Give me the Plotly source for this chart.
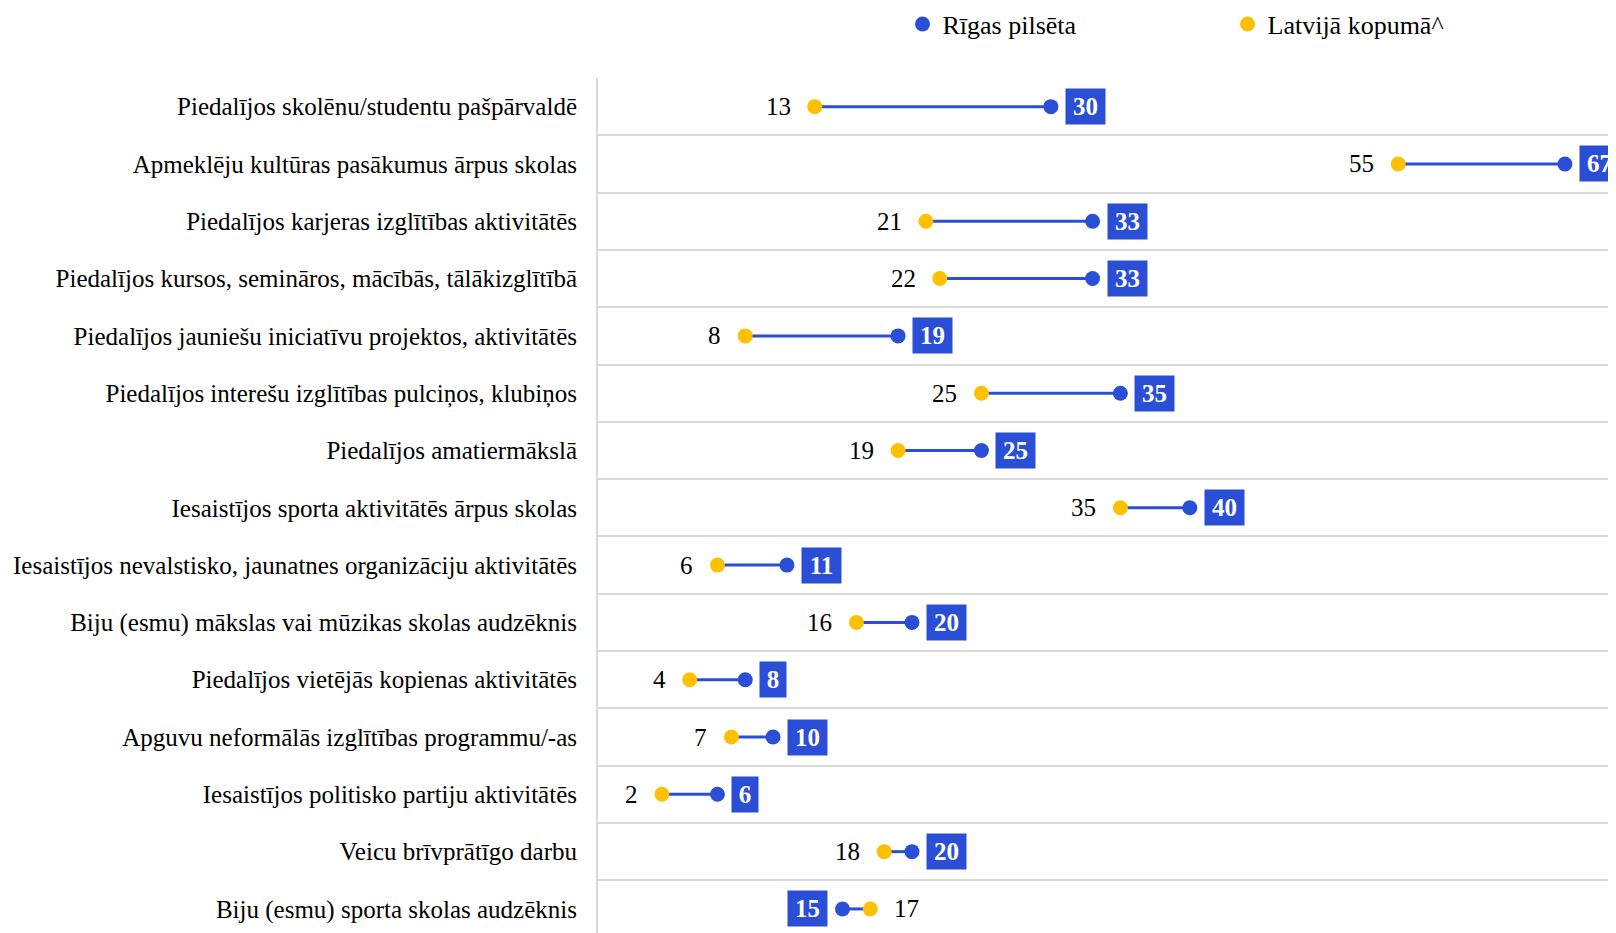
import plotly.graph_objects as go

categories = [
    "Piedalījos skolēnu/studentu pašpārvaldē",
    "Apmeklēju kultūras pasākumus ārpus skolas",
    "Piedalījos karjeras izglītības aktivitātēs",
    "Piedalījos kursos, semināros, mācībās, tālākizglītībā",
    "Piedalījos jauniešu iniciatīvu projektos, aktivitātēs",
    "Piedalījos interešu izglītības pulciņos, klubiņos",
    "Piedalījos amatiermākslā",
    "Iesaistījos sporta aktivitātēs ārpus skolas",
    "Iesaistījos nevalstisko, jaunatnes organizāciju aktivitātēs",
    "Biju (esmu) mākslas vai mūzikas skolas audzēknis",
    "Piedalījos vietējās kopienas aktivitātēs",
    "Apguvu neformālās izglītības programmu/-as",
    "Iesaistījos politisko partiju aktivitātēs",
    "Veicu brīvprātīgo darbu",
    "Biju (esmu) sporta skolas audzēknis",
]
riga = [30, 67, 33, 33, 19, 35, 25, 40, 11, 20, 8, 10, 6, 20, 15]
latvija = [13, 55, 21, 22, 8, 25, 19, 35, 6, 16, 4, 7, 2, 18, 17]

BLUE = "#2A4FD6"
GOLD = "#FFC000"
FONT = "Liberation Serif"

ypos = list(range(len(categories)))

fig = go.Figure()

# connecting lines
lx, ly = [], []
for i, (a, b) in enumerate(zip(latvija, riga)):
    lx += [a, b, None]
    ly += [i, i, None]
fig.add_trace(go.Scatter(x=lx, y=ly, mode="lines", line=dict(color=BLUE, width=3),
                         showlegend=False, hoverinfo="skip"))

fig.add_trace(go.Scatter(x=riga, y=ypos, mode="markers", name="Rīgas pilsēta",
                         marker=dict(color=BLUE, size=15)))
fig.add_trace(go.Scatter(x=latvija, y=ypos, mode="markers", name="Latvijā kopumā^",
                         marker=dict(color=GOLD, size=15)))

annotations = []
for i, (r, l) in enumerate(zip(riga, latvija)):
    rt = str(r)
    right = r >= l
    annotations.append(dict(
        x=r, y=i, xref="x", yref="y", text=f"<b>{rt}</b>", showarrow=False,
        xanchor="left" if right else "right", xshift=14 if right else -15,
        bgcolor=BLUE, font=dict(family=FONT, size=25, color="white"),
        width=13 * len(rt) + 9, height=31, borderpad=2, align="center"))
    annotations.append(dict(
        x=l, y=i, xref="x", yref="y", text=str(l), showarrow=False,
        xanchor="right" if right else "left", xshift=-22 if right else 22,
        font=dict(family=FONT, size=25, color="black")))

fig.update_layout(
    width=1616, height=933,
    margin=dict(l=590, r=16, t=70, b=8, autoexpand=False),
    plot_bgcolor="white", paper_bgcolor="white",
    font=dict(family=FONT, size=25, color="black"),
    xaxis=dict(range=[-2.6, 70.1], showgrid=False, zeroline=False, showticklabels=False,
               showline=False, fixedrange=True, automargin=False),
    yaxis=dict(range=[14.42, -0.5], tickmode="array", tickvals=ypos, ticktext=categories,
               showgrid=False, zeroline=False, showline=True, linecolor="#D9D9D9", linewidth=2,
               ticks="", ticklabelstandoff=14, automargin=False,
               tickfont=dict(family=FONT, size=25, color="black"),
               minor=dict(tickvals=[i - 0.5 for i in range(len(categories) + 1)], showgrid=True,
                          gridcolor="#D9D9D9", gridwidth=1.5, ticks="")),
    legend=dict(orientation="h", x=0.3015, xanchor="left", y=1.063, yanchor="middle",
                font=dict(family=FONT, size=26, color="black"), entrywidth=280,
                entrywidthmode="pixels", itemwidth=30, bgcolor="rgba(0,0,0,0)"),
    annotations=annotations,
    showlegend=True,
)

fig.write_html("out.html")
